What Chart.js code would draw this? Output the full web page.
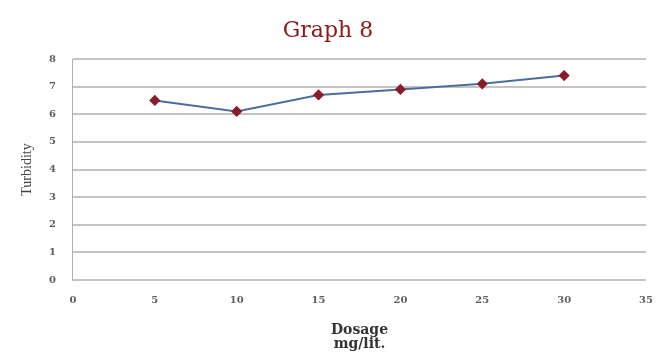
<!DOCTYPE html>
<html>
<head>
<meta charset="utf-8">
<script src="https://cdn.jsdelivr.net/npm/chart.js@4/dist/chart.umd.min.js"></script>
<style>
html,body{margin:0;padding:0;background:#fff;}
#wrap{width:663px;height:352px;}
</style>
</head>
<body>
<div id="wrap"><canvas id="c" width="663" height="352"></canvas></div>
<script>
const dosage = [5, 10, 15, 20, 25, 30];
const turbidity = [6.5, 6.1, 6.7, 6.9, 7.1, 7.4];
const chartTitle = "Graph 8";
const xTitle = ["Dosage", "mg/lit."];
const yTitle = "Turbidity";

const points = dosage.map((d, i) => ({ x: d, y: turbidity[i] }));

new Chart(document.getElementById('c'), {
  type: 'line',
  data: {
    datasets: [{
      label: yTitle,
      data: points,
      borderColor: '#4a6f9f',
      borderWidth: 2,
      pointStyle: 'rectRot',
      pointRadius: 4.2,
      pointBackgroundColor: '#8b1a2c',
      pointBorderColor: '#8b1a2c',
      tension: 0,
      fill: false
    }]
  },
  options: {
    responsive: false,
    animation: false,
    layout: { padding: { left: 10, right: 17, top: 0, bottom: 0 } },
    plugins: {
      legend: { display: false },
      tooltip: { enabled: false },
      title: {
        display: true,
        text: chartTitle,
        color: '#8b1a1a',
        font: { family: 'DejaVu Serif', size: 22, weight: 'normal' },
        padding: { top: 18, bottom: 14.6 }
      }
    },
    scales: {
      x: {
        type: 'linear',
        min: 0, max: 35,
        afterFit: (s) => { s.paddingRight = 0; },
        ticks: {
          stepSize: 5,
          color: '#5f5f5f',
          font: { family: 'DejaVu Serif', size: 10, weight: 'bold' },
          padding: 14
        },
        grid: { display: false, drawTicks: false },
        border: { display: false },
        title: {
          display: true,
          text: xTitle,
          color: '#333',
          font: { family: 'DejaVu Serif', size: 14, weight: 'bold', lineHeight: 1.05 },
          padding: { top: 2.6, bottom: 0 }
        }
      },
      y: {
        min: 0, max: 8,
        ticks: {
          stepSize: 1,
          color: '#5f5f5f',
          font: { family: 'DejaVu Serif', size: 10, weight: 'bold' },
          padding: 17
        },
        grid: { color: '#c4c4c4', lineWidth: 2, drawTicks: false },
        border: { display: true, color: '#b0b0b0', width: 1 },
        title: {
          display: true,
          text: yTitle,
          color: '#444',
          font: { family: 'Liberation Serif', size: 14 },
          padding: { top: 8.6, bottom: -3.4 }
        }
      }
    }
  }
});
</script>
</body>
</html>
